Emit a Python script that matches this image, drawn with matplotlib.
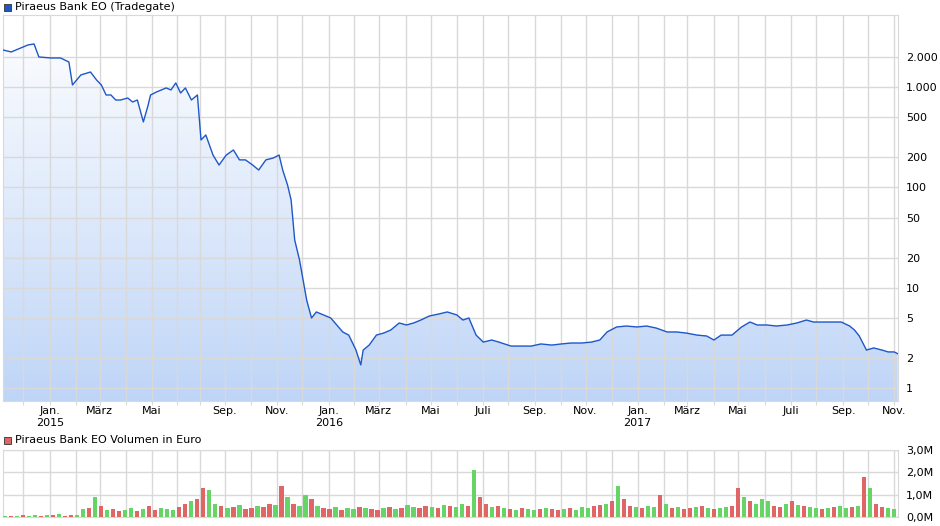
import numpy as np
import pandas as pd
import matplotlib
matplotlib.use("Agg")
import matplotlib.pyplot as plt
from matplotlib.ticker import FixedLocator, FuncFormatter

# price samples: trading session number (746-session frame) and price in EUR
session = [0, 7, 15, 21, 26, 30, 40, 48, 55, 58, 65, 73, 78, 82, 86, 90, 94, 98, 104,
           108, 112, 117, 121, 123, 128, 132, 136, 140, 144, 148, 152, 157, 162, 165,
           169, 175, 180, 186, 192, 197, 202, 208, 213, 219, 225, 230, 233, 237, 240,
           243, 247, 250, 253, 257, 261, 267, 273, 278, 283, 288, 294, 298, 300, 305,
           311, 317, 323, 330, 336, 342, 348, 355, 363, 370, 378, 383, 388, 394, 400,
           407, 413, 423, 432, 440, 448, 457, 465, 473, 482, 490, 497, 503, 511, 519,
           528, 536, 544, 553, 561, 569, 578, 586, 592, 598, 607, 615, 622, 628, 636,
           644, 653, 661, 669, 675, 683, 692, 698, 705, 709, 713, 719, 725, 732, 737,
           742, 745]
price = [2344, 2239, 2455, 2630, 2690, 1995, 1950, 1950, 1778, 1050, 1321, 1413, 1178,
         1050, 834, 834, 743, 743, 778, 710, 743, 449, 663, 834, 894, 936, 980, 936,
         1099, 873, 980, 743, 834, 297, 333, 210, 167, 210, 236, 188, 188, 167, 149,
         188, 196, 210, 149, 106, 75, 29.9, 18.9, 11.9, 7.5, 4.99, 5.73, 5.35, 4.99,
         4.25, 3.62, 3.37, 2.39, 1.70, 2.39, 2.68, 3.37, 3.53, 3.79, 4.45, 4.25, 4.45,
         4.76, 5.22, 5.47, 5.73, 5.35, 4.76, 4.99, 3.37, 2.87, 3.01, 2.87, 2.62, 2.62,
         2.62, 2.75, 2.68, 2.75, 2.81, 2.81, 2.87, 3.01, 3.62, 4.06, 4.15, 4.06, 4.15,
         3.96, 3.62, 3.62, 3.53, 3.37, 3.30, 3.01, 3.37, 3.37, 4.06, 4.55, 4.25, 4.25,
         4.15, 4.25, 4.45, 4.76, 4.55, 4.55, 4.55, 4.55, 4.15, 3.79, 3.30, 2.39, 2.51,
         2.39, 2.29, 2.29, 2.20]

# weekly volume in million EUR (5-session blocks) and direction (g = up, r = down)
volume = [0.05, 0.06, 0.04, 0.08, 0.05, 0.07, 0.06, 0.10, 0.08, 0.12, 0.06, 0.09, 0.10,
          0.35, 0.40, 0.90, 0.50, 0.30, 0.35, 0.25, 0.30, 0.40, 0.25, 0.35, 0.50, 0.30,
          0.40, 0.35, 0.30, 0.45, 0.60, 0.70, 0.80, 1.30, 1.20, 0.60, 0.50, 0.40, 0.45,
          0.55, 0.35, 0.40, 0.50, 0.45, 0.60, 0.55, 1.40, 0.90, 0.60, 0.50, 1.00, 0.80,
          0.50, 0.40, 0.35, 0.45, 0.30, 0.40, 0.35, 0.45, 0.40, 0.35, 0.30, 0.40, 0.45,
          0.35, 0.40, 0.55, 0.45, 0.40, 0.50, 0.45, 0.40, 0.55, 0.50, 0.45, 0.60, 0.50,
          2.10, 0.90, 0.60, 0.45, 0.50, 0.40, 0.35, 0.30, 0.40, 0.35, 0.30, 0.35, 0.40,
          0.35, 0.30, 0.35, 0.40, 0.30, 0.45, 0.40, 0.50, 0.55, 0.60, 0.70, 1.40, 0.80,
          0.50, 0.45, 0.40, 0.50, 0.45, 1.00, 0.60, 0.40, 0.45, 0.35, 0.40, 0.45, 0.50,
          0.40, 0.35, 0.40, 0.45, 0.50, 1.30, 0.90, 0.70, 0.60, 0.80, 0.70, 0.50, 0.45,
          0.60, 0.70, 0.55, 0.50, 0.45, 0.40, 0.35, 0.40, 0.45, 0.50, 0.40, 0.45, 0.50,
          1.80, 1.30, 0.60, 0.45, 0.40, 0.35, 0.40]
direction = ("grgrggrgrgrrggrgrgrrggrgrrgggrrgrrggrgrgrrgrrgrgrggrgrrgrggrgrrgrgrg"
             "grrgrgrggrgrrgrgrgrggrgrrgrgggrrgrgrrgrggrgrgrrgrgrggrrgrgggrrgrgrg")

frame_len = 746
start, end = "2014-11-06", "2017-11-06"
closure = ("2015-06-29", "2015-07-31")

# trading calendar with the Athens exchange closure removed
days = pd.bdate_range(start, end)
days = days[(days < closure[0]) | (days > closure[1])]
n = len(days)
scale = (n - 1) / (frame_len - 1)
xs = np.array(session) * scale

fig = plt.figure(figsize=(9.4, 5.26), dpi=100)
ax = fig.add_axes([0.003, 0.2376, 0.952, 0.734])
axv = fig.add_axes([0.003, 0.0171, 0.952, 0.1274])

grid_c = "#d9d9d9"
line_c = "#1f57c8"

# month grid / labels
month_starts = pd.date_range("2014-12-01", "2017-11-01", freq="MS")
de = {1: "Jan.", 3: "März", 5: "Mai", 7: "Juli", 9: "Sep.", 11: "Nov."}
grid_x, lab_x, labs = [], [], []
for m in month_starts:
    idx = np.searchsorted(days.values, np.datetime64(m))
    if idx >= n:
        continue
    if days[idx] >= m + pd.offsets.MonthBegin(1):
        continue
    grid_x.append(idx)
    if m.month in de:
        lab_x.append(idx)
        labs.append(de[m.month] + (f"\n{m.year}" if m.month == 1 else ""))

ymin, ymax = 0.742, 5236
ax.set_yscale("log")
ax.set_ylim(ymin, ymax)
ax.set_xlim(0, n - 1)

# gradient fill under the line
poly = ax.fill_between(xs, price, ymin / 2, color="none", lw=0)
grad = np.linspace(0, 1, 256).reshape(-1, 1)
cmap = matplotlib.colors.LinearSegmentedColormap.from_list("g", ["#bfd5f7", "#ffffff"])
im = ax.imshow(grad, cmap=cmap, aspect="auto", origin="lower",
               extent=[0, 1, 0, 1], transform=ax.transAxes, zorder=1)
path = poly.get_paths()[0]
im.set_clip_path(path, ax.transData)
ax.plot(xs, price, color=line_c, lw=1.0, zorder=3)

yt = [1, 2, 5, 10, 20, 50, 100, 200, 500, 1000, 2000]
ax.yaxis.set_major_locator(FixedLocator(yt))
ax.yaxis.set_minor_locator(FixedLocator([]))
ax.yaxis.set_major_formatter(FuncFormatter(lambda v, p: f"{int(v):,}".replace(",", ".")))
ax.yaxis.tick_right()
ax.set_xticks(grid_x)
ax.set_xticklabels([])
ax.grid(True, color=grid_c, lw=1, zorder=2)
ax.set_axisbelow(False)
for g in ax.get_xgridlines() + ax.get_ygridlines():
    g.set_zorder(2)
ax.tick_params(axis="y", length=0, labelsize=8, pad=6)
ax.tick_params(axis="x", length=3, color=grid_c)
for s in ax.spines.values():
    s.set_color(grid_c)
for x, l in zip(lab_x, labs):
    ax.text(x, -0.012, l, transform=ax.get_xaxis_transform(), ha="center", va="top",
            fontsize=8, linespacing=1.3)

# volume panel
vx = np.arange(len(volume)) * 5 * scale + 2
vcol = ["#e06666" if d == "r" else "#66d566" for d in direction[:len(volume)]]
axv.bar(vx, volume, width=3.5 * scale, color=vcol, zorder=3)
axv.set_xlim(0, n - 1)
axv.set_ylim(0, 3.0)
axv.set_yticks([0, 1, 2, 3])
axv.yaxis.set_major_formatter(FuncFormatter(lambda v, p: f"{v:.1f}M".replace(".", ",")))
axv.yaxis.tick_right()
axv.set_xticks(grid_x)
axv.set_xticklabels([])
axv.grid(True, color=grid_c, lw=1, zorder=0)
axv.tick_params(length=0, labelsize=8, pad=6)
for s in axv.spines.values():
    s.set_color(grid_c)

# legend-like titles
fig.patches.append(plt.Rectangle((4 / 940, 1 - 11 / 526), 7 / 940, 7 / 526,
                                 transform=fig.transFigure, fc=line_c, ec="#333333", lw=0.6))
fig.text(15 / 940, 1 - 7 / 526, "Piraeus Bank EO (Tradegate)", fontsize=8, va="center")
fig.patches.append(plt.Rectangle((4 / 940, 1 - 444 / 526), 7 / 940, 7 / 526,
                                 transform=fig.transFigure, fc="#e06666", ec="#333333", lw=0.6))
fig.text(15 / 940, 1 - 440 / 526, "Piraeus Bank EO Volumen in Euro", fontsize=8, va="center")

fig.savefig("out.png", dpi=100)
